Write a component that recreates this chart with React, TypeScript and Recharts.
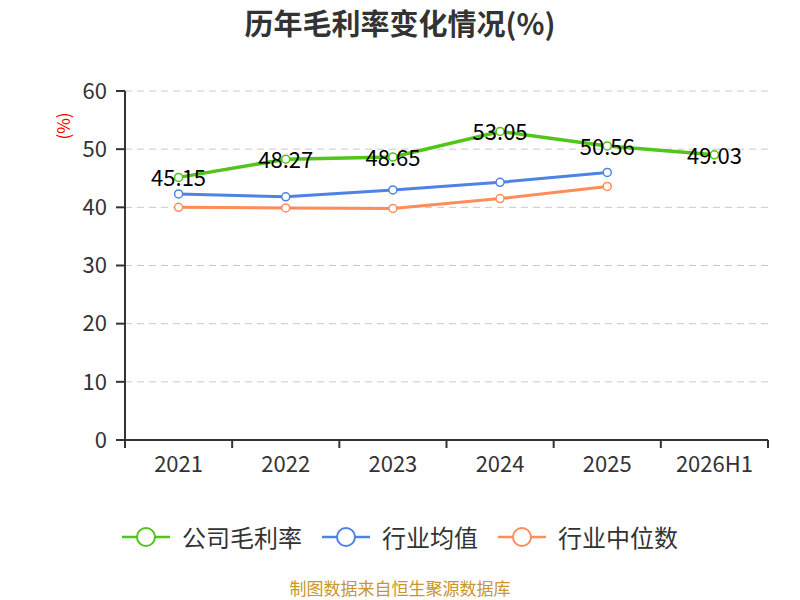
import { CartesianGrid, LabelList, Line, LineChart, XAxis, YAxis } from "recharts";

const years = ["2021", "2022", "2023", "2024", "2025", "2026H1"];
const companyMargin = [45.15, 48.27, 48.65, 53.05, 50.56, 49.03];
const industryAvg = [42.3, 41.8, 43.0, 44.3, 46.0, null];
const industryMedian = [40.0, 39.9, 39.8, 41.5, 43.6, null];
const yTicks = [0, 10, 20, 30, 40, 50, 60];

const data = years.map((year, i) => ({
  year,
  company: companyMargin[i],
  avg: industryAvg[i],
  median: industryMedian[i],
}));

const font = '"Noto Sans CJK SC", "Noto Sans", sans-serif';
const GREEN = "#52c41a";
const BLUE = "#4e82e6";
const ORANGE = "#ff8c5a";

const plotLeft = 125;
const plotRight = 768;
const halfBand = (plotRight - plotLeft) / years.length / 2;

const series = [
  { key: "company", name: "公司毛利率", color: GREEN },
  { key: "avg", name: "行业均值", color: BLUE },
  { key: "median", name: "行业中位数", color: ORANGE },
];

function XTick(props: any) {
  const { x, y, payload, index } = props;
  const last = index === years.length - 1;
  return (
    <g>
      <line x1={x - halfBand} y1={y - 8} x2={x - halfBand} y2={y} stroke="#333" strokeWidth={2} />
      {last && (
        <line x1={x + halfBand} y1={y - 8} x2={x + halfBand} y2={y} stroke="#333" strokeWidth={2} />
      )}
      <text x={x} y={y + 24} textAnchor="middle" fill="#333" fontSize={22} fontFamily={font}>
        {payload.value}
      </text>
    </g>
  );
}

function ValueLabel(props: any) {
  const { x, y, value } = props;
  if (value == null) return null;
  return (
    <text
      x={x}
      y={y - 1}
      textAnchor="middle"
      dominantBaseline="central"
      fill="#000"
      fontSize={22}
      fontFamily={font}
    >
      {value.toFixed(2)}
    </text>
  );
}

function LegendIcon({ color }: { color: string }) {
  return (
    <svg width={48} height={22}>
      <line x1={0} y1={11} x2={48} y2={11} stroke={color} strokeWidth={2.5} />
      <circle cx={24} cy={11} r={9} fill="#fff" stroke={color} strokeWidth={2} />
    </svg>
  );
}

export default function App() {
  return (
    <div
      style={{
        position: "absolute",
        left: 0,
        top: 0,
        width: 800,
        height: 600,
        background: "#fff",
        fontFamily: font,
      }}
    >
      <div
        style={{
          position: "absolute",
          top: 2,
          width: 800,
          textAlign: "center",
          fontSize: 29,
          fontWeight: "bold",
          color: "#333",
          lineHeight: "40px",
        }}
      >
        历年毛利率变化情况(%)
      </div>
      <LineChart
        width={800}
        height={600}
        data={data}
        margin={{ top: 91, right: 800 - plotRight, left: plotLeft - 60, bottom: 130 }}
      >
        <CartesianGrid vertical={false} stroke="#c8c8c8" strokeDasharray="7 5" />
        <XAxis
          dataKey="year"
          height={30}
          padding={{ left: halfBand, right: halfBand }}
          axisLine={{ stroke: "#333", strokeWidth: 2 }}
          tickLine={false}
          tick={<XTick />}
          interval={0}
        />
        <YAxis
          width={60}
          domain={[0, 60]}
          ticks={yTicks}
          interval={0}
          axisLine={{ stroke: "#333", strokeWidth: 2 }}
          tickLine={{ stroke: "#333", strokeWidth: 2 }}
          tickSize={9}
          tickMargin={9}
          tick={{ fill: "#333", fontSize: 22, fontFamily: font }}
          label={{
            content: (p: any) => (
              <text
                x={p.viewBox.x - 3}
                y={p.viewBox.y + 35}
                transform={`rotate(-90 ${p.viewBox.x - 3} ${p.viewBox.y + 35})`}
                textAnchor="middle"
                dominantBaseline="central"
                fill="#f00"
                fontSize={17}
                fontFamily={font}
              >
                (%)
              </text>
            ),
          }}
        />
        <Line
          dataKey="median"
          stroke={ORANGE}
          strokeWidth={3}
          dot={{ r: 4, fill: "#fff", stroke: ORANGE, strokeWidth: 1.5 }}
          isAnimationActive={false}
        />
        <Line
          dataKey="avg"
          stroke={BLUE}
          strokeWidth={3}
          dot={{ r: 4, fill: "#fff", stroke: BLUE, strokeWidth: 1.5 }}
          isAnimationActive={false}
        />
        <Line
          dataKey="company"
          stroke={GREEN}
          strokeWidth={3.5}
          dot={{ r: 4, fill: "#fff", stroke: GREEN, strokeWidth: 1.5 }}
          isAnimationActive={false}
        >
          <LabelList dataKey="company" content={<ValueLabel />} />
        </Line>
      </LineChart>
      <div
        style={{
          position: "absolute",
          top: 522,
          width: 800,
          display: "flex",
          justifyContent: "center",
          gap: 20,
        }}
      >
        {series.map((s) => (
          <div key={s.key} style={{ display: "flex", alignItems: "center", gap: 12 }}>
            <LegendIcon color={s.color} />
            <span style={{ fontSize: 24, color: "#333", lineHeight: "30px" }}>{s.name}</span>
          </div>
        ))}
      </div>
      <div
        style={{
          position: "absolute",
          top: 578,
          width: 800,
          textAlign: "center",
          fontSize: 17,
          color: "#c8962d",
          lineHeight: "20px",
        }}
      >
        制图数据来自恒生聚源数据库
      </div>
    </div>
  );
}
